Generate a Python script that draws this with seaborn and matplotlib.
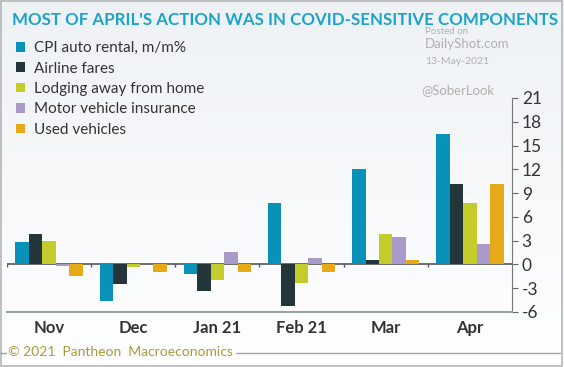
import numpy as np
import pandas as pd
import matplotlib
matplotlib.use("Agg")
import matplotlib.pyplot as plt
import seaborn as sns
from matplotlib.patches import Patch

# data
months = ["Nov", "Dec", "Jan 21", "Feb 21", "Mar", "Apr"]
series = ["CPI auto rental, m/m%", "Airline fares", "Lodging away from home",
          "Motor vehicle insurance", "Used vehicles"]
auto_rental = [2.8, -4.6, -1.2, 7.7, 12.0, 16.5]
airline = [3.9, -2.5, -3.3, -5.2, 0.5, 10.2]
lodging = [3.0, -0.3, -1.9, -2.3, 3.9, 7.8]
insurance = [-0.2, 0.0, 1.6, 0.8, 3.4, 2.6]
used_veh = [-1.4, -0.9, -0.9, -0.9, 0.6, 10.2]
colors = ["#0892b9", "#24363a", "#c3cc2b", "#a99bc9", "#e6aa18"]

df = pd.DataFrame({"month": months, series[0]: auto_rental, series[1]: airline,
                   series[2]: lodging, series[3]: insurance, series[4]: used_veh})
df = df.melt(id_vars="month", var_name="series", value_name="value")

sns.set_style("white")
plt.rcParams["font.family"] = ["Lato", "DejaVu Sans"]
plt.rcParams["axes.unicode_minus"] = False

fig = plt.figure(figsize=(5.64, 3.67), dpi=100)

# background gradient
bg = fig.add_axes([0, 0, 1, 1], zorder=-10)
grad = np.linspace(0, 1, 256).reshape(-1, 1)
bg.imshow(grad, aspect="auto", cmap=matplotlib.colors.LinearSegmentedColormap.from_list(
    "bg", ["#eef2f5", "#ffffff"]), extent=[0, 1, 0, 1], origin="upper")
bg.set_axis_off()
# border
fig.patches.append(plt.Rectangle((0.002, 0.003), 0.995, 0.994, transform=fig.transFigure,
                                 fill=False, edgecolor="#b5b5b5", lw=1.2))

ax = fig.add_axes([7 / 564, 55 / 367, 505 / 564, 214 / 367])
ax.patch.set_alpha(0)
sns.barplot(data=df, x="month", y="value", hue="series", hue_order=series,
            palette=colors, saturation=1, width=0.8, ax=ax, legend=False,
            edgecolor="none")

ax.set_xlim(-0.5, 5.5)
ax.set_ylim(-6, 21)
ax.set_yticks(range(-6, 22, 3))
ax.yaxis.tick_right()
ax.tick_params(axis="y", direction="out", length=4, color="#666666",
               labelsize=12.5, labelcolor="#333333", pad=3)
ax.tick_params(axis="x", length=0, labelsize=12, labelcolor="#333333", pad=6)
for lbl in ax.get_xticklabels():
    lbl.set_fontweight("bold")
ax.set_xlabel("")
ax.set_ylabel("")
for s in ["top", "left"]:
    ax.spines[s].set_visible(False)
ax.spines["right"].set_color("#777777")
ax.spines["bottom"].set_color("#9aa3a8")
ax.spines["bottom"].set_linewidth(1.5)

# zero line with group separator ticks
ax.axhline(0, color="#555555", lw=1.2, zorder=0.5)
ax.vlines(np.arange(-0.5, 5), -0.35, 0, color="#555555", lw=1, zorder=0.5)

# title
fig.text(12 / 564, 1 - 20 / 367, "MOST OF APRIL'S ACTION WAS IN COVID-SENSITIVE COMPONENTS",
         color="#1ca3c9", fontsize=12.2, fontweight="bold", va="center", ha="left")

# legend
handles = [Patch(facecolor=c, edgecolor="none") for c in colors]
ax.legend(handles, series, loc="upper left", bbox_to_anchor=(10 / 564, 1 - 35 / 367),
          bbox_transform=fig.transFigure, frameon=False, fontsize=11,
          handlelength=0.6, handleheight=0.6, handletextpad=0.6, labelspacing=0.42,
          borderaxespad=0, labelcolor="#333333")

# watermark
wm = "#b0b0b0"
fig.text(425 / 564, 1 - 32 / 367, "Posted on", color=wm, fontsize=7, va="center")
fig.text(425 / 564, 1 - 44 / 367, "DailyShot.com", color=wm, fontsize=9.5, va="center")
fig.text(425 / 564, 1 - 61 / 367, "13-May-2021", color=wm, fontsize=7.5, va="center")
fig.text(421 / 564, 1 - 90 / 367, "@SoberLook", color=wm, fontsize=9.5, va="center")

# footer
fig.text(8 / 564, 1 - 352 / 367, "\u00a9 2021  Pantheon  Macroeconomics", color="#a89a3c",
         fontsize=10, va="center", ha="left")
fig.add_artist(plt.Line2D([0, 6 / 564], [1 - 353 / 367] * 2, color="#9aa3b8", lw=1))
fig.add_artist(plt.Line2D([236 / 564, 560 / 564], [1 - 353 / 367] * 2, color="#9aa3b8", lw=1))

fig.savefig("out.png", dpi=100)
